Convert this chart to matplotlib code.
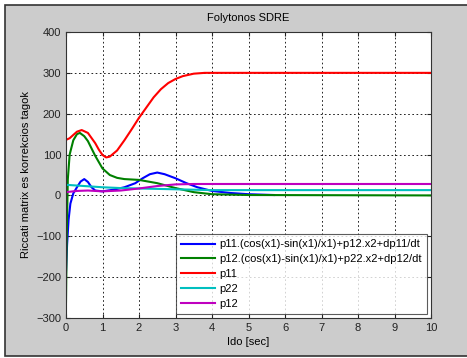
import matplotlib
matplotlib.use("Agg")
import matplotlib.pyplot as plt
from matplotlib.patches import Rectangle

plt.rcParams['font.family'] = ['Liberation Sans', 'DejaVu Sans']

# p11.(cos(x1)-sin(x1)/x1)+p12.x2+dp11/dt
t_blue = [0, 0.03, 0.07, 0.12, 0.2, 0.3, 0.4, 0.5, 0.6, 0.7, 0.8, 1.0, 1.3, 1.6, 1.9, 2.1,
          2.3, 2.5, 2.7, 3.0, 3.3, 3.6, 4.0, 4.5, 5.0, 5.7]
v_blue = [-190, -120, -60, -20, 5, 20, 34, 40, 33, 20, 12, 10, 14, 20, 30, 42,
          52, 56, 52, 42, 30, 20, 11, 6, 3, 1]

# p12.(cos(x1)-sin(x1)/x1)+p22.x2+dp12/dt
t_green = [0, 0.02, 0.05, 0.1, 0.2, 0.3, 0.38, 0.5, 0.6, 0.8, 1.0, 1.2, 1.4, 1.6, 2.0,
           2.5, 3.0, 3.5, 4.0, 5.0, 10]
v_green = [-260, -100, 40, 100, 135, 150, 153, 145, 133, 97, 66, 50, 43, 40, 38,
           30, 18, 8, 3, 1, 0]

# p11
t_red = [0, 0.1, 0.2, 0.3, 0.43, 0.6, 0.8, 0.9, 1.0, 1.1, 1.2, 1.4, 1.6, 1.8, 2.0, 2.2,
         2.4, 2.6, 2.8, 3.0, 3.2, 3.5, 3.8, 4.0, 10]
v_red = [136, 140, 148, 156, 160, 153, 128, 112, 99, 93, 95, 110, 135, 162, 190, 215,
         240, 260, 275, 285, 292, 298, 300, 300, 300]

# p22
t_cyan = [0, 0.5, 1.0, 1.5, 2.0, 2.5, 3.0, 3.5, 4.0, 10]
v_cyan = [26, 23, 20, 18, 17, 16, 15, 14, 13, 13]

# p12
t_mag = [0, 0.3, 0.6, 1.0, 1.5, 2.0, 2.5, 3.0, 3.5, 4.0, 10]
v_mag = [8, 11, 12, 10, 12, 17, 23, 27, 28, 28, 28]

labels = ['p11.(cos(x1)-sin(x1)/x1)+p12.x2+dp11/dt',
          'p12.(cos(x1)-sin(x1)/x1)+p22.x2+dp12/dt',
          'p11', 'p22', 'p12']

fig = plt.figure(figsize=(4.67, 3.58), dpi=100, facecolor='white')
fig.patches.append(Rectangle((5 / 467, 2 / 358), 1.0, 351 / 358, transform=fig.transFigure,
                             facecolor='#cccccc', edgecolor='#333333', linewidth=1.2,
                             zorder=-10))
ax = fig.add_axes([66 / 467, 1 - 318 / 358, 365 / 467, 286 / 358])

lw = 1.5
ax.plot(t_blue, v_blue, color='#0000ff', lw=lw, label=labels[0])
ax.plot(t_green, v_green, color='#008000', lw=lw, label=labels[1])
ax.plot(t_red, v_red, color='#ff0000', lw=lw, label=labels[2])
ax.plot(t_cyan, v_cyan, color='#00bfbf', lw=lw, label=labels[3])
ax.plot(t_mag, v_mag, color='#bf00bf', lw=lw, label=labels[4])

ax.set_xlim(0, 10)
ax.set_ylim(-300, 400)
ax.set_xticks(range(0, 11))
ax.set_yticks(range(-300, 401, 100))
ax.grid(True, color='black', linestyle=(0, (2, 3)), linewidth=0.6)
ax.tick_params(direction='in', top=True, right=True, labelsize=8, length=3,
               colors='#222222')
for s in ax.spines.values():
    s.set_color('#333333')

ax.set_title('Folytonos SDRE', fontsize=8, pad=8)
ax.set_xlabel('Ido [sec]', fontsize=8, labelpad=3)
ax.set_ylabel('Riccati matrix es korrekcios tagok', fontsize=8, labelpad=4)

leg = ax.legend(loc='lower right', fontsize=8, frameon=True, fancybox=False,
                borderpad=0.5, labelspacing=0.43, handlelength=3.0, handletextpad=0.4,
                borderaxespad=0.35)
leg.get_frame().set_edgecolor('#333333')
leg.get_frame().set_linewidth(0.8)

fig.savefig('out.png', dpi=100, facecolor=fig.get_facecolor())
